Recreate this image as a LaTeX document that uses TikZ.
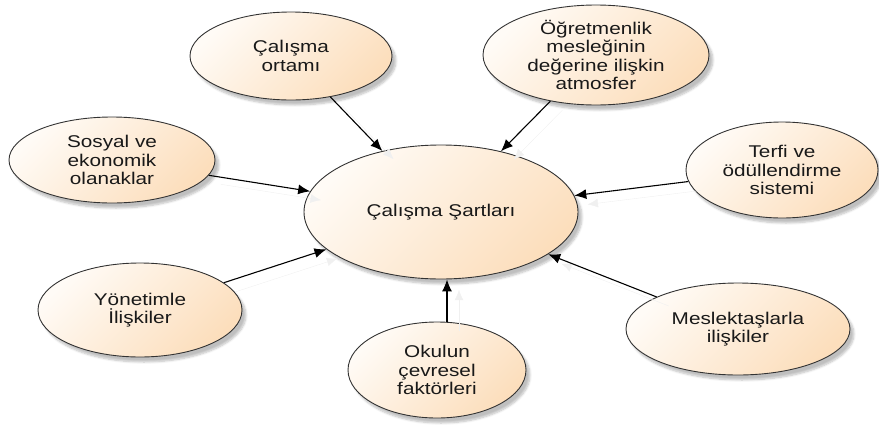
\documentclass[tikz,border=0pt]{standalone}
\usepackage{fontspec}
\setmainfont[FakeStretch=1.22]{Liberation Sans}
\usetikzlibrary{shapes.geometric}
\usetikzlibrary{arrows.meta}
\usetikzlibrary{shadows.blur}

\definecolor{peachlo}{RGB}{255,251,246}
\definecolor{peachhi}{RGB}{252,222,188}
\tikzset{
  bubble/.style={ellipse, draw=black!80, line width=0.9pt,
    top color=peachlo, bottom color=peachhi, shading angle=45,
    align=center, inner sep=0pt, text=black!90,
    font=\fontsize{17}{18.5}\selectfont,
    blur shadow={shadow xshift=4pt, shadow yshift=-5pt, shadow opacity=25, shadow blur steps=6}},
  link/.style={-{Latex[length=12pt,width=10pt]}, line width=1.1pt,
    preaction={draw=black!6, transform canvas={shift={(12pt,-9pt)}}}}
}

\begin{document}
\begin{tikzpicture}[x=1pt,y=-1pt]
      \useasboundingbox (0,0) rectangle (879,426);
      \node[bubble, minimum width=274pt, minimum height=134pt] (main) at (441,212) {Çalışma Şartları};
      \node[bubble, minimum width=202pt, minimum height=88pt] (ortam) at (291,56) {Çalışma\\ortamı};
      \node[bubble, minimum width=226pt, minimum height=100pt] (atmosfer) at (596,55) {Öğretmenlik\\mesleğinin\\değerine ilişkin\\atmosfer};
      \node[bubble, minimum width=192pt, minimum height=96pt] (terfi) at (782,170) {Terfi ve\\ödüllendirme\\sistemi};
      \node[bubble, minimum width=206pt, minimum height=86pt] (sosyal) at (112,160) {Sosyal ve\\ekonomik\\olanaklar};
      \node[bubble, minimum width=204pt, minimum height=94pt] (yonetim) at (140,310) {Yönetimle\\İlişkiler};
      \node[bubble, minimum width=178pt, minimum height=96pt] (cevre) at (437,370) {Okulun\\çevresel\\faktörleri};
      \node[bubble, minimum width=224pt, minimum height=92pt] (meslek) at (738,329) {Meslektaşlarla\\ilişkiler};
      \draw[link] (ortam) -- (main);
      \draw[link] (atmosfer) -- (main);
      \draw[link] (terfi) -- (main);
      \draw[link] (sosyal) -- (main);
      \draw[link] (yonetim) -- (main);
      \draw[link] ([xshift=10pt]cevre.north) -- ([xshift=6pt]main.south);
      \draw[link] (meslek) -- (main);
    \end{tikzpicture}
\end{document}
